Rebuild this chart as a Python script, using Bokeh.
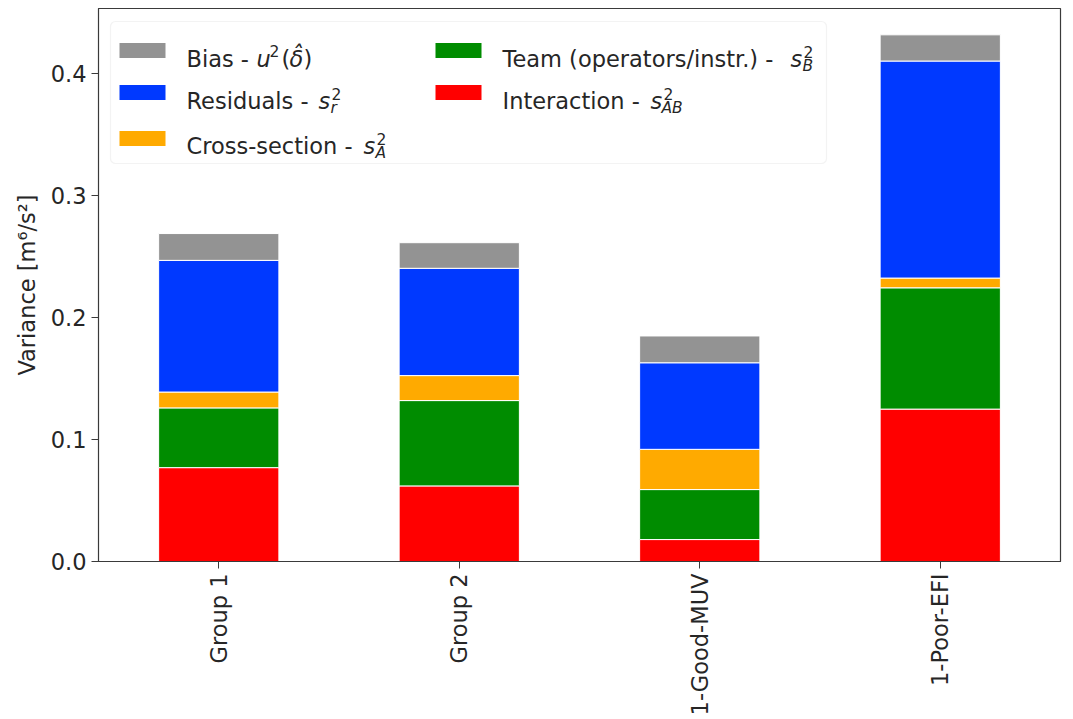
import math
from bokeh.plotting import figure
from bokeh.models import (ColumnDataSource, Range1d, FixedTicker, PrintfTickFormatter,
                          BoxAnnotation)
from bokeh.core.properties import value
from bokeh.embed import file_html
from bokeh.resources import INLINE

# --- data -------------------------------------------------------------------
groups = ["Group 1", "Group 2", "1-Good-MUV", "1-Poor-EFI"]
interaction = [0.077, 0.062, 0.018, 0.125]      # s_AB^2
team = [0.049, 0.070, 0.041, 0.0995]            # s_B^2
cross_section = [0.013, 0.0205, 0.033, 0.008]   # s_A^2
residuals = [0.108, 0.088, 0.071, 0.178]        # s_r^2
bias = [0.022, 0.021, 0.022, 0.0215]            # u^2(delta-hat)

components = ["interaction", "team", "cross_section", "residuals", "bias"]
colors = ["#ff0000", "#008c00", "#ffaa00", "#0039ff", "#939393"]

# --- layout ------------------------------------------------------------------
FONT = "DejaVu Sans"
FS = "22.5px"
FL, FT, FW, FH = 98, 8, 962, 553          # frame left/top/width/height in px
XMIN, XMAX = -0.5, len(groups) - 0.5
YMAX = 1.05 * max(sum(v) for v in zip(interaction, team, cross_section, residuals, bias))

src = ColumnDataSource(dict(
    x=list(range(len(groups))),
    interaction=interaction, team=team, cross_section=cross_section,
    residuals=residuals, bias=bias,
))

p = figure(frame_width=FW, frame_height=FH, output_backend="svg", toolbar_location=None,
           x_range=Range1d(XMIN, XMAX), y_range=Range1d(0, YMAX),
           min_border_left=FL, min_border_top=FT, min_border_right=1073 - FL - FW,
           min_border_bottom=719 - FT - FH, background_fill_color="white",
           border_fill_color="white")

p.vbar_stack(components, x="x", width=0.5, source=src, color=colors,
             line_color="white", line_width=1)

p.xgrid.visible = False
p.ygrid.visible = False
p.outline_line_color = "#3a3a3a"
p.outline_line_width = 1.2

for ax in (p.xaxis[0], p.yaxis[0]):
    ax.axis_line_color = "#3a3a3a"
    ax.major_tick_line_color = "#3a3a3a"
    ax.major_tick_out = 7
    ax.major_tick_in = 0
    ax.minor_tick_line_color = None
    ax.major_label_text_font = FONT
    ax.major_label_text_font_size = FS
    ax.major_label_text_color = "#262626"
    ax.major_label_standoff = 5

p.xaxis.ticker = FixedTicker(ticks=list(range(len(groups))))
p.xaxis.major_label_overrides = {i: g for i, g in enumerate(groups)}
p.xaxis.major_label_orientation = math.pi / 2

p.yaxis.ticker = FixedTicker(ticks=[0.0, 0.1, 0.2, 0.3, 0.4])
p.yaxis.formatter = PrintfTickFormatter(format="%.1f")
p.yaxis.axis_label = "Variance [m\u2076/s\u00b2]"
p.yaxis.axis_label_text_font = FONT
p.yaxis.axis_label_text_font_size = FS
p.yaxis.axis_label_text_font_style = "normal"
p.yaxis.axis_label_text_color = "#262626"
p.yaxis.axis_label_standoff = 8


# --- legend, built from pieces so that sub/superscripts can be set -------------
def dx(px):
    return XMIN + (px - FL) / FW * (XMAX - XMIN)


def dy(py):
    return YMAX * (1 - (py - FT) / FH)


legend_box = BoxAnnotation(left=dx(110), right=dx(826), top=dy(21), bottom=dy(163),
                           fill_color="white", fill_alpha=0.85, line_color="#d6d6d6",
                           line_width=1.2, border_radius=5, level="underlay")
p.add_layout(legend_box)

key_cols = [119, 119, 119, 435, 435]
key_rows = [50, 92, 138, 50, 92]
key_order = [4, 3, 2, 1, 0]     # bias, residuals, cross-section, team, interaction
p.quad(left=[dx(c) for c in key_cols], right=[dx(c + 46) for c in key_cols],
       top=[dy(r - 7.5) for r in key_rows], bottom=[dy(r + 7.5) for r in key_rows],
       fill_color=[colors[k] for k in key_order], line_color=None)

BIG, SMALL = FS, "15.5px"
pieces = [
    # text, x px, baseline px, size, style
    ("Bias - ", 186, 58, BIG, "normal"),
    ("u", 256, 58, BIG, "italic"),
    ("2", 269, 50, SMALL, "normal"),
    ("(", 281, 58, BIG, "normal"),
    ("\u03b4\u0302", 289, 58, BIG, "italic"),
    (")", 303, 58, BIG, "normal"),

    ("Residuals - ", 186, 100, BIG, "normal"),
    ("s", 318, 100, BIG, "italic"),
    ("2", 331, 93, SMALL, "normal"),
    ("r", 330, 107, SMALL, "italic"),

    ("Cross-section - ", 186, 145, BIG, "normal"),
    ("s", 363, 145, BIG, "italic"),
    ("2", 376, 138, SMALL, "normal"),
    ("A", 375, 152, SMALL, "italic"),

    ("Team (operators/instr.) - ", 502, 58, BIG, "normal"),
    ("s", 790, 58, BIG, "italic"),
    ("2", 803, 51, SMALL, "normal"),
    ("B", 802, 65, SMALL, "italic"),

    ("Interaction - ", 502, 100, BIG, "normal"),
    ("s", 650, 100, BIG, "italic"),
    ("2", 663, 93, SMALL, "normal"),
    ("AB", 661, 107, SMALL, "italic"),
]
leg_src = ColumnDataSource(dict(
    x=[dx(t[1]) for t in pieces], y=[dy(t[2]) for t in pieces],
    text=[t[0] for t in pieces], size=[t[3] for t in pieces],
    style=[t[4] for t in pieces],
))
p.text(x="x", y="y", text="text", source=leg_src, text_font=value(FONT),
       text_font_size="size", text_font_style="style", text_color="#262626",
       text_baseline="alphabetic", text_align="left")

html = file_html(p, INLINE)
open("out.html", "w").write(html)
